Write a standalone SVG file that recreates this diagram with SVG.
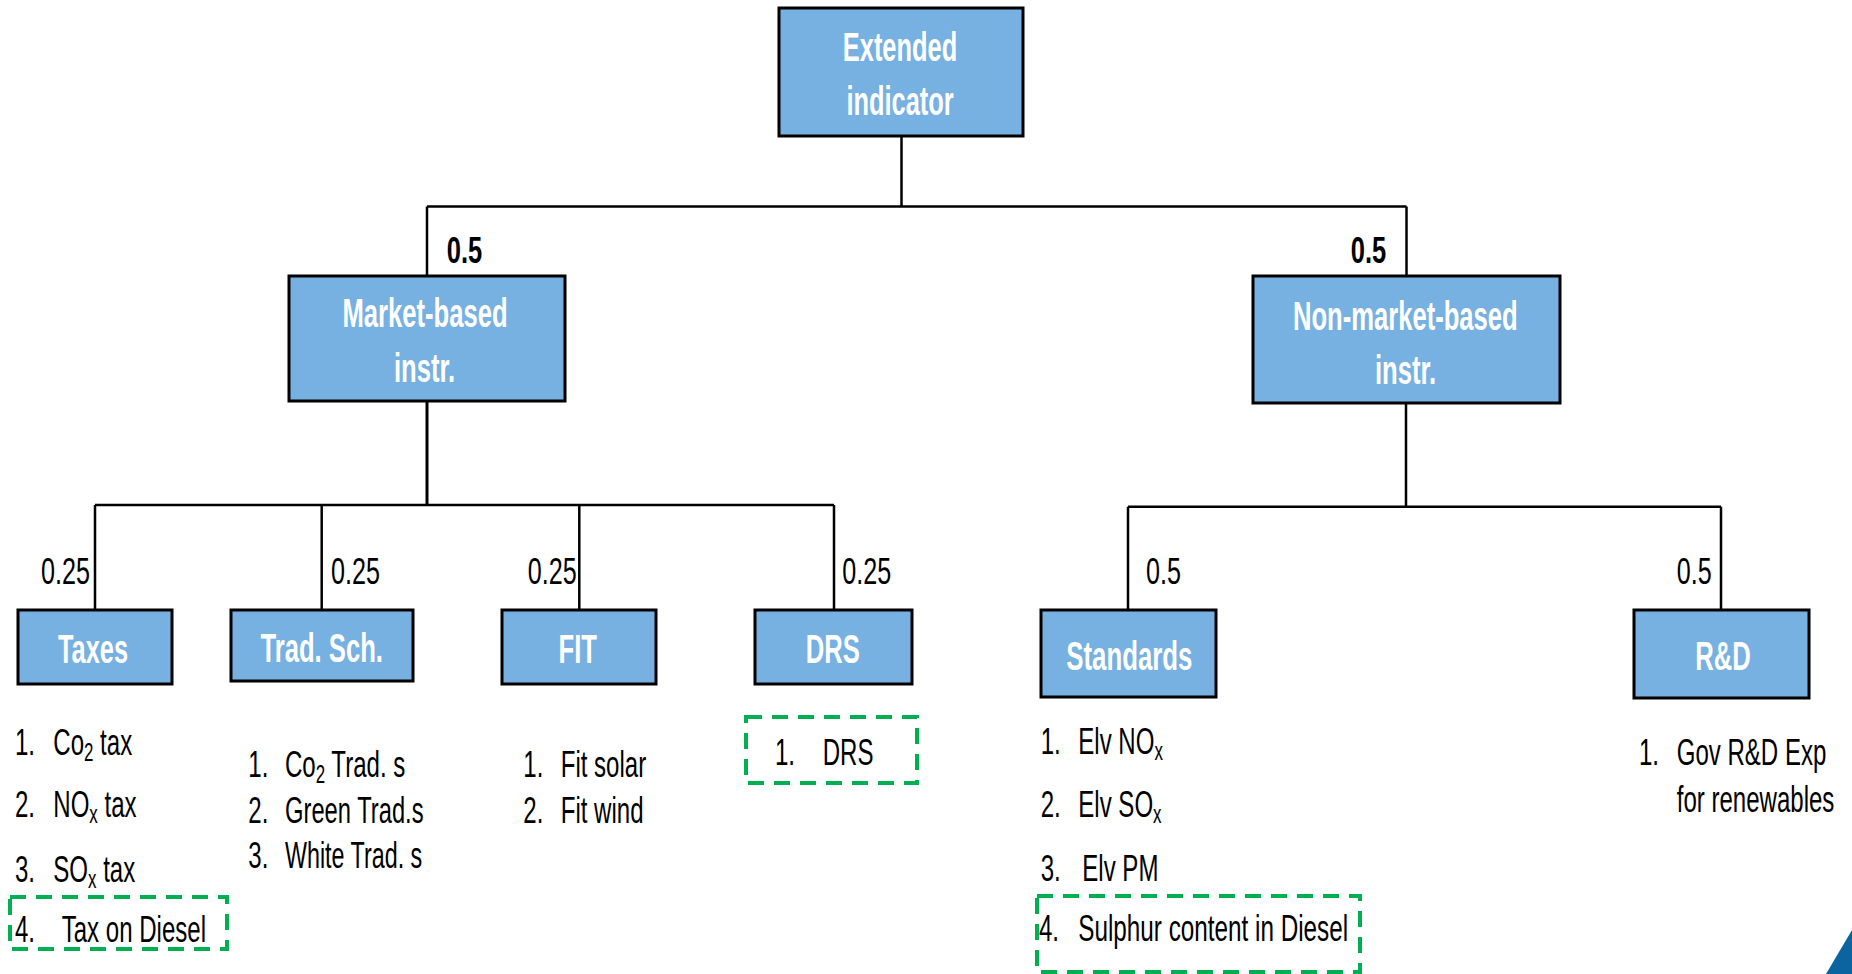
<svg xmlns="http://www.w3.org/2000/svg" width="1852" height="974" viewBox="0 0 1852 974">
  <style>
    .box { fill: #76B1E2; stroke: #000; stroke-width: 3; }
    .bl { font-family: "Liberation Sans", Arial, sans-serif; font-weight: bold; font-size: 40px; fill: #fff; text-anchor: middle; }
    .wb { font-family: "Liberation Sans", Arial, sans-serif; font-weight: bold; font-size: 37px; fill: #000; }
    .wn { font-family: "Liberation Sans", Arial, sans-serif; font-size: 37px; fill: #000; }
    .it { font-family: "Liberation Sans", Arial, sans-serif; font-size: 37px; fill: #000; }
    .sub { font-size: 26px; }
    .link { fill: none; stroke: #000; stroke-width: 2.5; }
    .hl { fill: none; stroke: #00B050; stroke-width: 4; stroke-dasharray: 16 10; }
  </style>

  <!-- tree connectors -->
  <g id="connectors">
    <path class="link" d="M901.5,136 V206.5 M427,206.5 H1406.5 M427,206.5 V276 M1406.5,206.5 V276"/>
    <path class="link" style="stroke-width:3" d="M427,401 V505"/>
    <path class="link" d="M95,505 H834 M95,505 V610 M321.7,505 V610 M579.3,505 V610 M834,505 V610"/>
    <path class="link" d="M1406,403 V506.7 M1128,506.7 H1721 M1128,506.7 V610 M1721,506.7 V610"/>
  </g>

  <!-- weights on the branches -->
  <g id="weights">
    <text class="wb" transform="translate(446.7,263) scale(0.69,1)">0.5</text>
    <text class="wb" transform="translate(1350.7,263) scale(0.69,1)">0.5</text>
    <text class="wn" transform="translate(41,584) scale(0.68,1)">0.25</text>
    <text class="wn" transform="translate(331,584) scale(0.68,1)">0.25</text>
    <text class="wn" transform="translate(527.7,584) scale(0.68,1)">0.25</text>
    <text class="wn" transform="translate(842.3,584) scale(0.68,1)">0.25</text>
    <text class="wn" transform="translate(1146,584) scale(0.68,1)">0.5</text>
    <text class="wn" transform="translate(1676.7,584) scale(0.68,1)">0.5</text>
  </g>

  <g id="extended">
    <rect class="box" x="779" y="8" width="244" height="128"/>
    <text class="bl" transform="translate(900,61) scale(0.635,1)">Extended</text>
    <text class="bl" transform="translate(900,115) scale(0.635,1)">indicator</text>
  </g>

  <g id="market">
    <rect class="box" x="289" y="276" width="276" height="125"/>
    <text class="bl" transform="translate(425,326.7) scale(0.64,1)">Market-based</text>
    <text class="bl" transform="translate(424.5,381.7) scale(0.64,1)">instr.</text>
  </g>

  <g id="nonmarket">
    <rect class="box" x="1253" y="276" width="307" height="127"/>
    <text class="bl" transform="translate(1405.3,330) scale(0.64,1)">Non-market-based</text>
    <text class="bl" transform="translate(1405.5,384) scale(0.64,1)">instr.</text>
  </g>

  <g id="taxes">
    <rect class="box" x="18" y="610" width="154" height="74"/>
    <text class="bl" transform="translate(93,663) scale(0.635,1)">Taxes</text>
    <text class="it" transform="translate(15,755) scale(0.65,1)">1.</text>
    <text class="it" transform="translate(53.3,755) scale(0.65,1)">Co<tspan class="sub" dy="6">2</tspan><tspan dy="-6"> tax</tspan></text>
    <text class="it" transform="translate(15,817.3) scale(0.65,1)">2.</text>
    <text class="it" transform="translate(53.3,817.3) scale(0.65,1)">NO<tspan class="sub" dy="6">x</tspan><tspan dy="-6"> tax</tspan></text>
    <text class="it" transform="translate(15,881.7) scale(0.65,1)">3.</text>
    <text class="it" transform="translate(53.3,881.7) scale(0.65,1)">SO<tspan class="sub" dy="6">x</tspan><tspan dy="-6"> tax</tspan></text>
    <text class="it" transform="translate(15,941.7) scale(0.65,1)">4.</text>
    <text class="it" transform="translate(61.7,941.7) scale(0.65,1)">Tax on Diesel</text>
    <rect class="hl" x="10" y="897" width="217" height="52"/>
  </g>

  <g id="trading">
    <rect class="box" x="231" y="610" width="182" height="71"/>
    <text class="bl" transform="translate(321.7,662) scale(0.64,1)">Trad. Sch.</text>
    <text class="it" transform="translate(248.3,777.3) scale(0.65,1)">1.</text>
    <text class="it" transform="translate(285,777.3) scale(0.65,1)">Co<tspan class="sub" dy="6">2</tspan><tspan dy="-6"> Trad. s</tspan></text>
    <text class="it" transform="translate(248.3,823.3) scale(0.65,1)">2.</text>
    <text class="it" transform="translate(285,823.3) scale(0.642,1)">Green Trad.s</text>
    <text class="it" transform="translate(248.3,868.3) scale(0.65,1)">3.</text>
    <text class="it" transform="translate(285,868.3) scale(0.63,1)">White Trad. s</text>
  </g>

  <g id="fit">
    <rect class="box" x="502" y="610" width="154" height="74"/>
    <text class="bl" transform="translate(577.8,663) scale(0.64,1)">FIT</text>
    <text class="it" transform="translate(523.3,777.3) scale(0.65,1)">1.</text>
    <text class="it" transform="translate(560.7,777.3) scale(0.65,1)">Fit solar</text>
    <text class="it" transform="translate(523.3,823.3) scale(0.65,1)">2.</text>
    <text class="it" transform="translate(560.7,823.3) scale(0.65,1)">Fit wind</text>
  </g>

  <g id="drs">
    <rect class="box" x="755" y="610" width="157" height="74"/>
    <text class="bl" transform="translate(832.8,663) scale(0.64,1)">DRS</text>
    <text class="it" transform="translate(775,765) scale(0.65,1)">1.</text>
    <text class="it" transform="translate(822.7,765) scale(0.65,1)">DRS</text>
    <rect class="hl" x="746" y="717" width="171" height="66"/>
  </g>

  <g id="standards">
    <rect class="box" x="1041" y="610" width="175" height="87"/>
    <text class="bl" transform="translate(1129.3,670) scale(0.645,1)">Standards</text>
    <text class="it" transform="translate(1040.7,754) scale(0.65,1)">1.</text>
    <text class="it" transform="translate(1078.3,754) scale(0.65,1)">Elv NO<tspan class="sub" dy="6">x</tspan></text>
    <text class="it" transform="translate(1040.7,817.3) scale(0.65,1)">2.</text>
    <text class="it" transform="translate(1078.3,817.3) scale(0.65,1)">Elv SO<tspan class="sub" dy="6">x</tspan></text>
    <text class="it" transform="translate(1040.7,880.7) scale(0.65,1)">3.</text>
    <text class="it" transform="translate(1082.3,880.7) scale(0.65,1)">Elv PM</text>
    <text class="it" transform="translate(1039,940.7) scale(0.65,1)">4.</text>
    <text class="it" transform="translate(1078.3,940.7) scale(0.656,1)">Sulphur content in Diesel</text>
    <rect class="hl" x="1037" y="896" width="323" height="76"/>
  </g>

  <g id="rnd">
    <rect class="box" x="1634" y="610" width="175" height="88"/>
    <text class="bl" transform="translate(1723,670) scale(0.64,1)">R&amp;D</text>
    <text class="it" transform="translate(1639,765) scale(0.65,1)">1.</text>
    <text class="it" transform="translate(1676.7,765) scale(0.65,1)">Gov R&amp;D Exp</text>
    <text class="it" transform="translate(1676.7,811.7) scale(0.65,1)">for renewables</text>
  </g>

  <!-- corner accent -->
  <polygon points="1826,974 1852,930 1852,974" fill="#0B64A0"/>
</svg>
